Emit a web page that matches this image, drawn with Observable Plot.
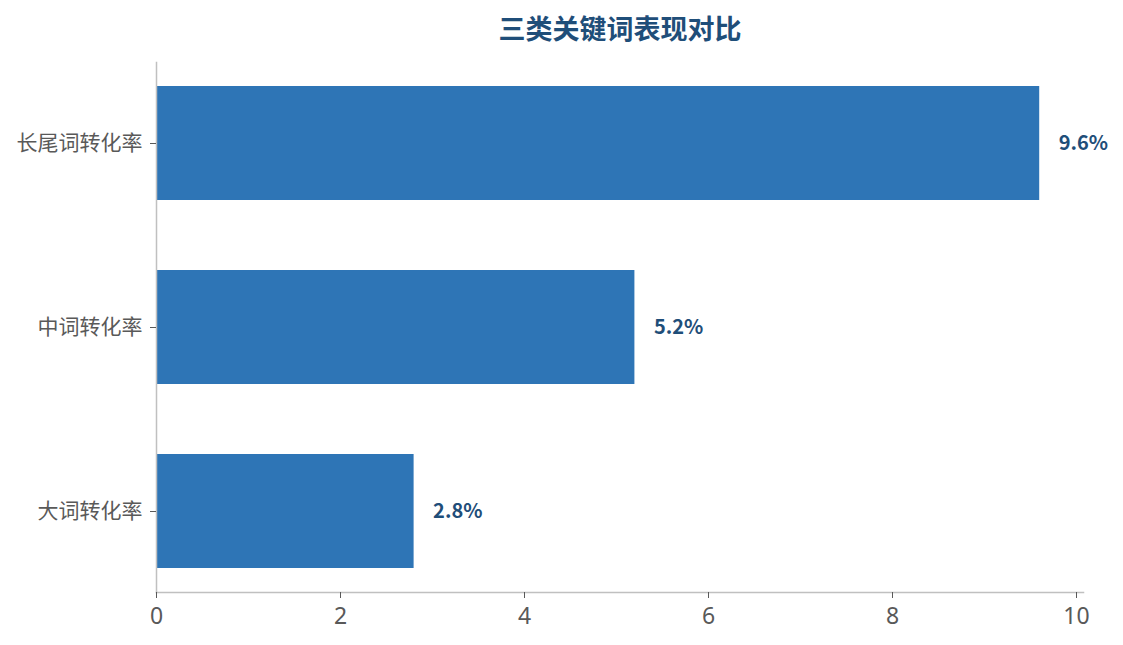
<!DOCTYPE html>
<html><head><meta charset="utf-8">
<script src="https://cdn.jsdelivr.net/npm/d3@7"></script>
<script src="https://cdn.jsdelivr.net/npm/@observablehq/plot@0.6"></script>
<style>
body{margin:0;background:#fff;font-family:"Noto Sans CJK SC","Noto Sans",sans-serif;}
</style></head>
<body><div id="chart"></div>
<script>
const categories = ["长尾词转化率", "中词转化率", "大词转化率"];
const values = [9.6, 5.2, 2.8];
const labels = ["9.6%", "5.2%", "2.8%"];
const xTicks = [0, 2, 4, 6, 8, 10];
const title = "三类关键词表现对比";

const data = categories.map((c, i) => ({cat: c, v: values[i], label: labels[i]}));

const chart = Plot.plot({
  width: 1123, height: 645,
  marginTop: 62, marginBottom: 53, marginLeft: 156, marginRight: 40,
  style: {fontFamily: '"Noto Sans CJK SC","Noto Sans",sans-serif', fontSize: "20px", color: "#595959", background: "#fff"},
  x: {domain: [0, 10.076], label: null},
  y: {domain: categories, paddingInner: 0.382, paddingOuter: 0.127, label: null},
  marks: [
    Plot.barX(data, {x: "v", y: "cat", fill: "#2e75b6"}),
    Plot.text(data, {x: "v", y: "cat", text: "label", textAnchor: "start", dx: 19, fill: "#1f4e79", fontWeight: "bold", fontSize: 20}),
    Plot.frame({anchor: "left", stroke: "#c0c0c0", strokeWidth: 1.5}),
    Plot.frame({anchor: "bottom", stroke: "#c0c0c0", strokeWidth: 1.5}),
    Plot.axisX({ticks: xTicks, tickFormat: d => String(d), stroke: "#595959", fill: "#595959", tickSize: 6, tickPadding: 9, fontSize: 23, fontFamily: '"Noto Sans",sans-serif', label: null}),
    Plot.axisY({stroke: "#595959", fill: "#595959", tickSize: 6, tickPadding: 8, fontSize: 21, label: null}),
    Plot.text([title], {frameAnchor: "top", dy: -43, fill: "#1f4e79", fontWeight: "bold", fontSize: 27})
  ]
});
document.getElementById("chart").appendChild(chart);
</script></body></html>
